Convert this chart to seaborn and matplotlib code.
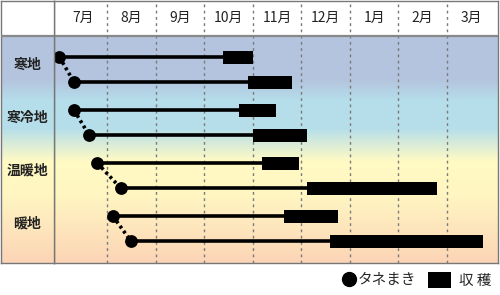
import numpy as np
import pandas as pd
import matplotlib
matplotlib.use("Agg")
import matplotlib.pyplot as plt
import seaborn as sns
from matplotlib.colors import LinearSegmentedColormap
from matplotlib.lines import Line2D
from matplotlib.patches import Patch

# ---- data (months counted from July 1 = 0) ----
months = ["7月", "8月", "9月", "10月", "11月", "12月", "1月", "2月", "3月"]
regions = ["寒地", "寒冷地", "温暖地", "暖地"]
row_region = [0, 0, 1, 1, 2, 2, 3, 3]
sow = [0.02, 0.32, 0.32, 0.63, 0.80, 1.28, 1.12, 1.49]
harvest_start = [3.39, 3.90, 3.72, 4.00, 4.19, 5.12, 4.64, 5.59]
harvest_end = [4.00, 4.81, 4.48, 5.12, 4.95, 7.80, 5.76, 8.74]
legend_labels = ["タネまき", "収 穫"]

GAP = 0.12
df = pd.DataFrame({
    "idx": range(len(sow)),
    "region": row_region,
    "sow": sow,
    "hs": harvest_start,
    "he": harvest_end,
})
df["y"] = df["idx"] + GAP * df["region"]

sns.set_theme(style="white")
plt.rcParams["font.family"] = ["Noto Sans CJK JP", "DejaVu Sans"]

W, H = 500, 295
fig = plt.figure(figsize=(W / 100, H / 100), dpi=100)

# pixel geometry
x_left, x_right = 54, 498
y_top, y_head, y_bot = 1, 36, 263
px_per_row = 25
row0_px = 57

def fy(px):
    return (px - row0_px) / px_per_row

ax = fig.add_axes([x_left / W, 1 - y_bot / H, (x_right - x_left) / W, (y_bot - y_top) / H])
axl = fig.add_axes([1 / W, 1 - y_bot / H, (x_left - 1) / W, (y_bot - y_top) / H])

xmin, xmax = -0.091, 9.05
ymin_d, ymax_d = fy(y_head), fy(y_bot)
ytop = fy(y_top)

cmap = LinearSegmentedColormap.from_list("bg", [
    (0.0, "#b4c4de"), (0.19, "#b4c4de"), (0.28, "#b5ddea"), (0.41, "#b7dfea"),
    (0.55, "#fffac4"), (0.70, "#fff6c2"), (1.0, "#fcd4b6")])
grad = np.linspace(0, 1, 256).reshape(-1, 1)

for a, (x0, x1) in [(ax, (xmin, xmax)), (axl, (0, 1))]:
    a.imshow(grad, cmap=cmap, aspect="auto", extent=[x0, x1, ymax_d, ymin_d],
             interpolation="bilinear", zorder=0)
    a.set_xlim(x0, x1)
    a.set_ylim(ymax_d, ytop)
    a.axhline(ymin_d, color="#888888", lw=1.6, zorder=3)
    a.set_xticks([])
    a.set_yticks([])
    for s in a.spines.values():
        s.set_color("#777777")
        s.set_linewidth(1.0)

# month grid & labels
for i, m in enumerate(months):
    if i > 0:
        ax.axvline(i, color="#7a7a7a", lw=1.0, ls=(0, (2, 2.5)), zorder=1)
    ax.text(i + 0.5, fy(18), m, ha="center", va="center", fontsize=10, color="#222222")

# region labels
for g, r in enumerate(regions):
    first = df[df["region"] == g]["y"].iloc[0]
    axl.text(0.5, first + 0.3, r, ha="center", va="center", fontsize=10,
             color="#222222", fontweight="bold")

# connectors (dotted) between sowing dots of same region
for g in range(len(regions)):
    sub = df[df["region"] == g]
    ax.plot(sub["sow"], sub["y"], color="black", lw=2.6, ls=(0, (0.8, 0.9)), zorder=2)

# growth lines
ax.hlines(df["y"], df["sow"], df["hs"], color="black", lw=2.6, zorder=3)
# harvest bars
ax.barh(df["y"], df["he"] - df["hs"], left=df["hs"], height=0.52, color="black",
        edgecolor="black", linewidth=0, zorder=4)
# sowing dots
sns.scatterplot(data=df, x="sow", y="y", ax=ax, s=85, color="black",
                edgecolor="black", linewidth=0, zorder=5, legend=False)
ax.set_xlabel("")
ax.set_ylabel("")
ax.set_xlim(xmin, xmax)
ax.set_ylim(ymax_d, ytop)

leg_y = 1 - 280 / H
fig.legend([Line2D([], [], marker="o", color="black", ls="", markersize=10)],
           [legend_labels[0]], loc="center left", bbox_to_anchor=(342 / W, leg_y),
           frameon=False, fontsize=10.5, handlelength=0.9, handletextpad=0.2,
           borderaxespad=0, borderpad=0)
fig.legend([Patch(facecolor="black", edgecolor="black", linewidth=0)],
           [legend_labels[1]], loc="center left", bbox_to_anchor=(428 / W, leg_y),
           frameon=False, fontsize=10.5, handlelength=1.6, handleheight=1.4,
           handletextpad=0.5, borderaxespad=0, borderpad=0)

fig.savefig("out.png", dpi=100, facecolor="white")
